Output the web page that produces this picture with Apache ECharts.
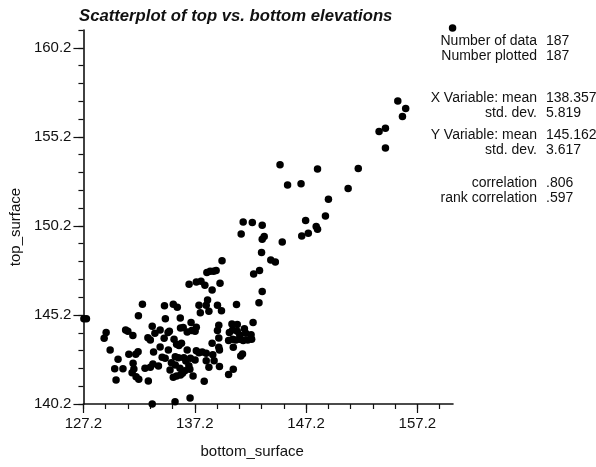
<!DOCTYPE html>
<html>
<head>
<meta charset="utf-8">
<script src="https://cdn.jsdelivr.net/npm/echarts@6/dist/echarts.min.js"></script>
<style>
  html, body { margin: 0; padding: 0; background: #fff; }
  #chart { width: 596px; height: 467px; }
</style>
</head>
<body>
<div id="chart"></div>
<script>
// Elevation pairs: bottom surface (x) and top surface (y)
const bottomSurface = [
  136.69, 132.50, 134.48, 135.27, 135.63, 132.14, 134.56, 135.90, 127.24, 127.47,
  136.87, 129.24, 129.06, 130.99, 131.19, 131.64, 133.38, 132.99, 133.21, 133.62,
  134.09, 134.45, 134.92, 134.80, 135.34, 135.92, 136.16, 136.52, 136.93, 129.60,
  131.28, 132.11, 131.90, 133.50, 134.09, 134.83, 135.57, 135.78, 136.01, 136.52,
  130.31, 131.66, 134.27, 134.54, 135.45, 135.74, 135.10, 136.22, 136.40, 136.81,
  130.01, 130.75, 131.73, 132.73, 133.21, 133.44, 133.94, 134.98, 135.45, 135.87,
  136.10, 136.31, 135.92, 136.67, 136.76, 130.13, 131.57, 131.93, 132.17, 133.03,
  135.27, 135.57, 133.38, 135.43, 136.78,
  143.20, 144.03, 144.44, 139.65, 138.29, 138.58, 138.89, 139.12, 142.49, 143.02,
  137.34, 137.76, 138.11, 139.47, 138.76, 143.26, 142.97, 140.95, 137.58, 138.23,
  138.35, 139.24, 139.60, 137.70, 138.47, 142.44, 140.54, 141.02, 141.66, 139.36,
  139.24, 137.34, 137.23, 140.31, 140.60, 141.02, 141.25, 141.78, 142.26, 139.36,
  140.24, 140.60, 140.89, 141.25, 141.55, 141.96, 142.31, 140.66, 138.76, 139.36,
  139.42, 141.49, 141.33, 137.34, 137.58, 137.87, 138.23, 138.82, 138.94, 137.23,
  138.23, 138.47, 139.42, 140.66, 140.24, 137.05, 138.05,
  144.86, 148.23, 145.54, 146.75, 150.98, 149.21, 148.94, 147.16, 148.11, 148.23,
  146.81, 147.40, 141.55, 142.37, 143.26, 141.37, 143.44, 143.26, 145.06, 151.89,
  155.44, 156.15, 155.86, 153.76, 154.33, 154.33, 160.36
];
const topSurface = [
  146.92, 145.80, 145.71, 145.80, 145.63, 145.16, 144.99, 145.03, 144.98, 144.98,
  144.77, 144.21, 143.89, 144.36, 144.28, 144.04, 144.57, 143.92, 143.80, 144.17,
  144.36, 143.89, 144.28, 144.21, 143.83, 144.47, 144.49, 144.24, 144.32, 143.23,
  142.99, 143.14, 142.99, 143.12, 143.40, 143.23, 143.55, 143.48, 143.61, 143.23,
  142.71, 142.49, 142.82, 142.77, 142.86, 142.80, 142.52, 142.80, 142.62, 142.77,
  142.18, 142.18, 142.17, 142.21, 142.26, 142.45, 142.33, 142.11, 142.39, 142.21,
  141.92, 142.07, 141.83, 142.35, 142.15, 141.55, 141.96, 141.73, 141.59, 141.49,
  141.70, 141.77, 140.20, 140.33, 140.54,
  148.70, 148.29, 148.18, 148.25, 147.58, 147.66, 147.66, 147.69, 147.50, 147.69,
  147.05, 147.09, 146.87, 146.98, 146.60, 146.51, 145.89, 145.78, 145.74, 145.74,
  146.04, 145.74, 145.44, 145.33, 145.41, 144.77, 144.69, 144.66, 144.43, 144.62,
  144.32, 144.51, 144.28, 144.21, 144.36, 144.28, 144.06, 144.17, 144.09, 143.91,
  143.76, 143.83, 143.80, 143.83, 143.76, 143.80, 143.83, 143.39, 143.61, 143.39,
  143.23, 143.01, 142.90, 143.19, 143.08, 143.12, 143.05, 142.97, 142.63, 142.67,
  142.63, 142.26, 142.30, 142.15, 141.85, 141.77, 141.48,
  153.64, 153.39, 152.49, 152.56, 152.30, 151.70, 150.76, 150.50, 150.16, 150.01,
  149.64, 149.79, 150.42, 150.39, 150.24, 149.75, 149.60, 149.45, 149.30, 153.42,
  157.22, 156.79, 156.34, 155.50, 155.69, 154.57, 161.31
];

// Axis labels
const xTicks = [127.2, 137.2, 147.2, 157.2];
const yTicks = [140.2, 145.2, 150.2, 155.2, 160.2];

// Summary statistics shown at the right
const statLabels = ['Number of data', 'Number plotted', 'X Variable: mean', 'std. dev.',
                    'Y Variable: mean', 'std. dev.', 'correlation', 'rank correlation'];
const statValues = ['187', '187', '138.357', '5.819', '145.162', '3.617', '.806', '.597'];
const statRowY = [41, 56, 98, 113, 135, 150, 183, 198];

const X_MIN = 127.2, X_MAX = 160.4, X_STEP = 2;
const Y_MIN = 140.2, Y_MAX = 161.2, Y_STEP = 1;

function steps(lo, hi, step) {
  const out = [];
  for (let v = lo; v <= hi + 1e-9; v += step) out.push(Math.round(v * 10) / 10);
  return out;
}
const xMinor = steps(X_MIN, X_MAX, X_STEP);
const yMinor = steps(Y_MIN, Y_MAX, Y_STEP);

const FONT = '"Liberation Sans", Arial, Helvetica, sans-serif';
const INK = '#111';

const chart = echarts.init(document.getElementById('chart'), null, { renderer: 'canvas' });

const points = bottomSurface.map((x, i) => [x, topSurface[i]]);

const graphics = [];
statLabels.forEach((lab, i) => {
  graphics.push({
    type: 'text', x: 537, y: statRowY[i],
    style: { text: lab, align: 'right', verticalAlign: 'middle', font: '14px ' + FONT, fill: INK }
  });
  graphics.push({
    type: 'text', x: 546, y: statRowY[i],
    style: { text: statValues[i], align: 'left', verticalAlign: 'middle', font: '14px ' + FONT, fill: INK }
  });
});

const option = {
  animation: false,
  backgroundColor: '#fff',
  title: {
    text: 'Scatterplot of top vs. bottom elevations',
    left: 79, top: 8, padding: 0,
    textStyle: { fontFamily: FONT, fontSize: 16.7, fontWeight: 'bold', fontStyle: 'italic', color: INK }
  },
  grid: { left: 79, right: 143, top: 30, bottom: 63, containLabel: false },
  xAxis: [
    {
      type: 'value', min: X_MIN, max: X_MAX, position: 'bottom',
      axisLine: { show: true, lineStyle: { color: INK, width: 1.6 } },
      axisTick: { show: true, customValues: xMinor, length: 5, lineStyle: { color: INK, width: 1.2 } },
      axisLabel: { show: false },
      splitLine: { show: false }
    },
    {
      type: 'value', min: X_MIN, max: X_MAX, position: 'bottom',
      axisLine: { show: false },
      axisTick: { show: true, customValues: xTicks, length: 9, lineStyle: { color: INK, width: 1.2 } },
      axisLabel: {
        show: true, customValues: xTicks, margin: 12,
        formatter: v => v.toFixed(1),
        fontFamily: FONT, fontSize: 15, color: INK
      },
      splitLine: { show: false },
      name: 'bottom_surface', nameLocation: 'middle', nameGap: 40,
      nameTextStyle: { fontFamily: FONT, fontSize: 15, color: INK, padding: [0, 32, 0, 0] }
    }
  ],
  yAxis: [
    {
      type: 'value', min: Y_MIN, max: Y_MAX, position: 'left',
      axisLine: { show: true, lineStyle: { color: INK, width: 1.6 } },
      axisTick: { show: true, customValues: yMinor, length: 5, lineStyle: { color: INK, width: 1.2 } },
      axisLabel: { show: false },
      splitLine: { show: false }
    },
    {
      type: 'value', min: Y_MIN, max: Y_MAX, position: 'left',
      axisLine: { show: false },
      axisTick: { show: true, customValues: yTicks, length: 10, lineStyle: { color: INK, width: 1.2 } },
      axisLabel: {
        show: true, customValues: yTicks, margin: 12,
        formatter: v => v.toFixed(1),
        fontFamily: FONT, fontSize: 15, color: INK,
        verticalAlign: 'middle', padding: [0, 0, 8, 0]
      },
      splitLine: { show: false },
      name: 'top_surface', nameLocation: 'middle', nameGap: 56, nameRotate: 90,
      nameTextStyle: { fontFamily: FONT, fontSize: 15, color: INK, padding: [0, 20, 0, 0] }
    }
  ],
  series: [{
    type: 'scatter',
    xAxisIndex: 0, yAxisIndex: 0,
    data: points,
    symbol: 'circle', symbolSize: 7.5,
    itemStyle: { color: '#000', opacity: 1 },
    clip: false
  }],
  graphic: graphics
};

chart.setOption(option);
</script>
</body>
</html>
